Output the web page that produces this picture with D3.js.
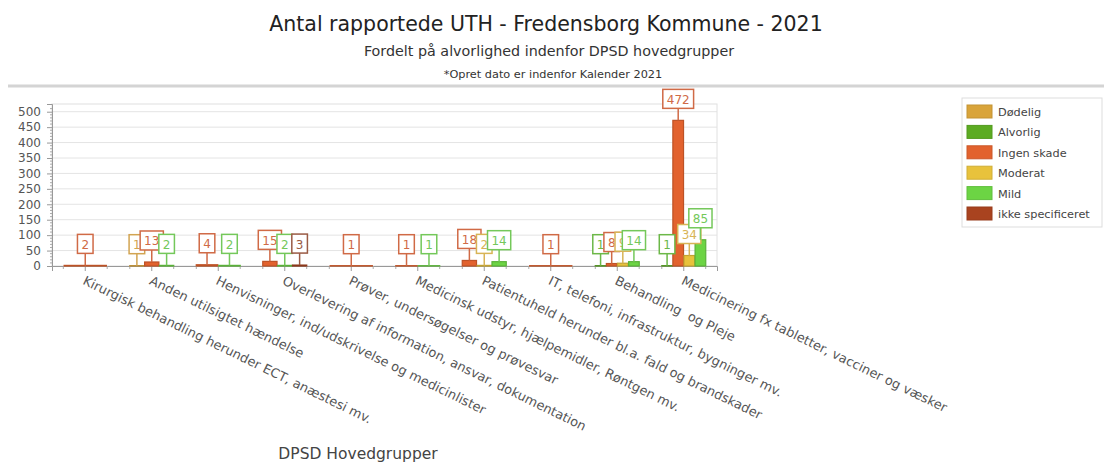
<!DOCTYPE html>
<html>
<head>
<meta charset="utf-8">
<script src="https://cdn.jsdelivr.net/npm/d3@7/dist/d3.min.js"></script>
<style>
  body { margin: 0; background: #fff; }
  svg { display: block; font-family: "DejaVu Sans", Verdana, sans-serif; }
</style>
</head>
<body>
<svg id="chart"></svg>
<script>
// Data
const categories = [
  "Kirurgisk behandling herunder ECT, anæstesi mv.",
  "Anden utilsigtet hændelse",
  "Henvisninger, ind/udskrivelse og medicinlister",
  "Overlevering af information, ansvar, dokumentation",
  "Prøver, undersøgelser og prøvesvar",
  "Medicinsk udstyr, hjælpemidler, Røntgen mv.",
  "Patientuheld herunder bl.a. fald og brandskader",
  "IT, telefoni, infrastruktur, bygninger mv.",
  "Behandling  og Pleje",
  "Medicinering fx tabletter, vacciner og væsker"
];
const seriesNames = ["Dødelig", "Alvorlig", "Ingen skade", "Moderat", "Mild", "ikke specificeret"];
const dodelig    = [null, 1, null, null, null, null, null, null, null, null];
const alvorlig   = [null, null, null, null, null, null, null, null, 1, 1];
const ingenSkade = [2, 13, 4, 15, 1, 1, 18, 1, 8, 472];
const moderat    = [null, null, null, null, null, null, 2, null, 9, 34];
const mild       = [null, 2, 2, 2, null, 1, 14, null, 14, 85];
const ikkeSpec   = [null, null, null, 3, null, null, null, null, null, null];
const yTicks = [0, 50, 100, 150, 200, 250, 300, 350, 400, 450, 500];

const seriesValues = [dodelig, alvorlig, ingenSkade, moderat, mild, ikkeSpec];
const colors = ["#d9a43a", "#5cab22", "#e2622e", "#e8c23c", "#6cd444", "#a9431f"];
const labelColors = ["#d2a452", "#6cb848", "#d06a46", "#d8b456", "#74c85a", "#9a5a44"];

const width = 1110, height = 466;
const svg = d3.select("#chart").attr("width", width).attr("height", height);

// titles
svg.append("text").attr("x", 546).attr("y", 31).attr("text-anchor", "middle")
  .attr("font-size", 20.5).attr("fill", "#222")
  .text("Antal rapportede UTH - Fredensborg Kommune - 2021");
svg.append("text").attr("x", 549).attr("y", 56).attr("text-anchor", "middle")
  .attr("font-size", 14.3).attr("fill", "#333")
  .text("Fordelt på alvorlighed indenfor DPSD hovedgrupper");
svg.append("text").attr("x", 553).attr("y", 78).attr("text-anchor", "middle")
  .attr("font-size", 11.3).attr("fill", "#333")
  .text("*Opret dato er indenfor Kalender 2021");
svg.append("line").attr("x1", 8).attr("x2", 1104).attr("y1", 86).attr("y2", 86)
  .attr("stroke", "#d4d4d4").attr("stroke-width", 3);

// plot area
const plot = { left: 52, right: 717, top: 104, bottom: 266 };
const x = d3.scaleBand().domain(categories).range([plot.left, plot.right]);
const y = d3.scaleLinear().domain([0, 525]).range([plot.bottom, plot.top]);

const g = svg.append("g");

// grid
g.append("g").selectAll("line").data(yTicks.filter(d => d > 0)).join("line")
  .attr("x1", plot.left).attr("x2", plot.right)
  .attr("y1", d => y(d)).attr("y2", d => y(d))
  .attr("stroke", "#e4e4e4");
g.append("rect").attr("x", plot.left).attr("y", plot.top)
  .attr("width", plot.right - plot.left).attr("height", plot.bottom - plot.top)
  .attr("fill", "none").attr("stroke", "#e0e0e0");

// y axis
const yAxis = g.append("g").attr("transform", `translate(${plot.left},0)`)
  .call(d3.axisLeft(y).tickValues(yTicks).tickSize(5).tickPadding(6));
yAxis.select(".domain").attr("stroke", "#999");
yAxis.selectAll(".tick line").attr("stroke", "#999");
yAxis.selectAll(".tick text").attr("font-size", 12).attr("fill", "#555")
  .attr("font-family", "DejaVu Sans, sans-serif");
yAxis.append("g").selectAll("line").data(d3.range(10, 520, 10).filter(d => d % 50)).join("line")
  .attr("x1", -2).attr("x2", 0).attr("y1", d => y(d)).attr("y2", d => y(d))
  .attr("stroke", "#aaa");

// x axis
const xAxis = g.append("g").attr("transform", `translate(0,${plot.bottom})`)
  .call(d3.axisBottom(x).tickSize(5).tickFormat(""));
xAxis.select(".domain").attr("stroke", "#999");
xAxis.selectAll(".tick line").attr("stroke", "#999");
const minorX = [];
categories.forEach(c => [-0.33, 0.33].forEach(f => minorX.push(x(c) + x.bandwidth() * (0.5 + f))));
xAxis.append("g").selectAll("line").data(minorX).join("line")
  .attr("x1", d => d).attr("x2", d => d).attr("y1", 0).attr("y2", 3).attr("stroke", "#aaa");

// category labels
g.append("g").selectAll("text").data(categories).join("text")
  .attr("transform", d => `translate(${x(d) + x.bandwidth() / 2 + 1},${plot.bottom + 9}) rotate(26)`)
  .attr("dy", "0.75em")
  .attr("font-size", 12.9).attr("fill", "#555")
  .style("white-space", "pre")
  .text(d => d);

// bars (only series present in a group share its width)
const bars = [];
categories.forEach((c, ci) => {
  const present = seriesNames.filter((s, si) => seriesValues[si][ci] != null);
  const cx = x(c) + x.bandwidth() / 2;
  const inner = d3.scaleBand().domain(present).range([cx - 22, cx + 22]).paddingInner(0.04);
  present.forEach(s => {
    const si = seriesNames.indexOf(s);
    bars.push({ cat: c, si, value: seriesValues[si][ci], x: inner(s), w: inner.bandwidth() });
  });
});

const barG = g.append("g");
barG.selectAll("rect").data(bars).join("rect")
  .attr("x", d => d.x).attr("width", d => d.w)
  .attr("y", d => y(d.value)).attr("height", d => y(0) - y(d.value))
  .attr("fill", d => colors[d.si])
  .attr("stroke", d => d3.color(colors[d.si]).darker(0.5))
  .attr("stroke-width", 1.2);

// value labels with pins
const lab = g.append("g").selectAll("g").data(bars).join("g")
  .attr("transform", d => `translate(${d.x + d.w / 2},${y(d.value)})`);
lab.append("line").attr("y1", 0).attr("y2", -12)
  .attr("stroke", d => labelColors[d.si]).attr("stroke-width", 1.5);
lab.each(function (d) {
  const sel = d3.select(this);
  const t = String(d.value);
  const w = t.length * 7.6 + 8;
  sel.append("rect").attr("x", -w / 2).attr("y", -31).attr("width", w).attr("height", 19)
    .attr("fill", "#fff").attr("stroke", labelColors[d.si]).attr("stroke-width", 1.5);
  sel.append("text").attr("y", -16.5).attr("text-anchor", "middle")
    .attr("font-size", 12).attr("fill", labelColors[d.si]).text(t);
});

// axis title
svg.append("text").attr("x", 358).attr("y", 459).attr("text-anchor", "middle")
  .attr("font-size", 15.5).attr("fill", "#444").text("DPSD Hovedgrupper");

// legend
const legend = svg.append("g");
legend.append("rect").attr("x", 962).attr("y", 98).attr("width", 140).attr("height", 129)
  .attr("fill", "#fff").attr("stroke", "#ddd");
const li = legend.selectAll("g").data(seriesNames).join("g")
  .attr("transform", (d, i) => `translate(967,${105 + i * 20.4})`);
li.append("rect").attr("width", 25).attr("height", 13)
  .attr("fill", (d, i) => colors[i]).attr("stroke", (d, i) => d3.color(colors[i]).darker(0.3));
li.append("text").attr("x", 31).attr("y", 11).attr("font-size", 11.3).attr("fill", "#444")
  .text(d => d);
</script>
</body>
</html>
